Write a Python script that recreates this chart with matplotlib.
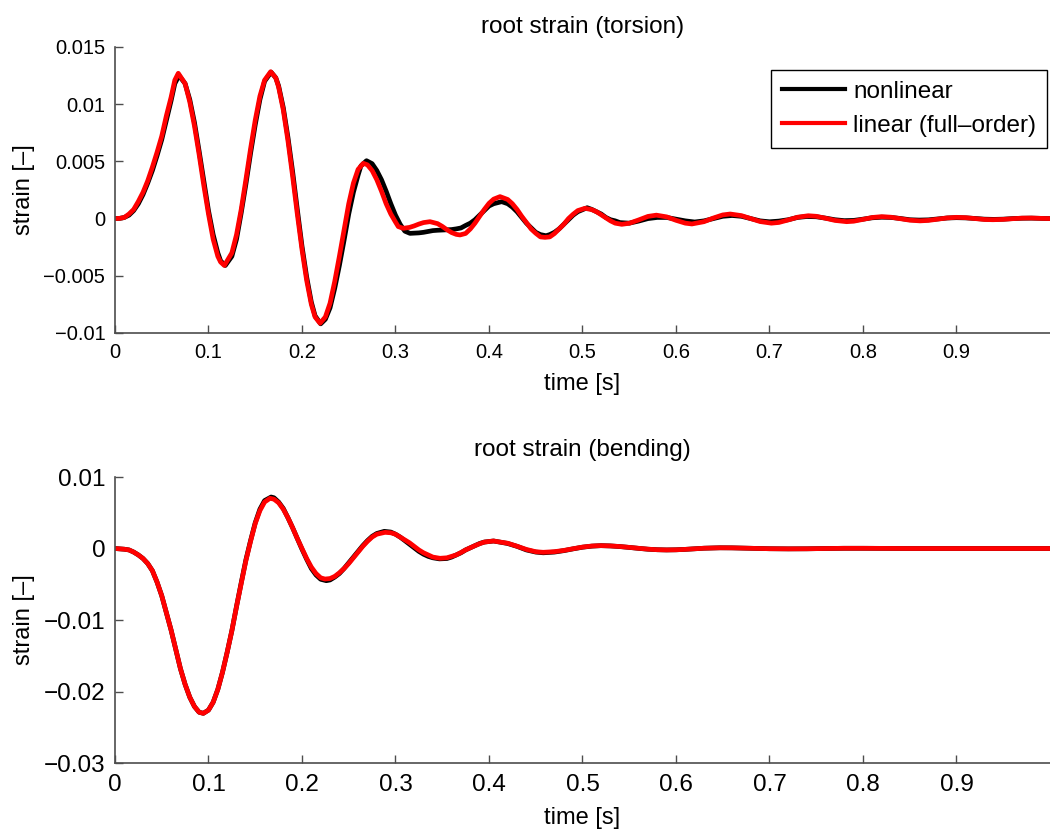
import numpy as np
import matplotlib.pyplot as plt
from matplotlib.ticker import FuncFormatter

plt.rcParams['font.family'] = ['Liberation Sans', 'DejaVu Sans']

# (time [s], strain)
# root strain (torsion), linear full-order model
tor_lin = [
    (0.0, 0.0), (0.005, 0.00002), (0.01, 0.0001), (0.015, 0.0004), (0.02, 0.0008),
    (0.025, 0.0015), (0.03, 0.0023), (0.035, 0.0033), (0.04, 0.0045), (0.045, 0.0058),
    (0.05, 0.0072), (0.055, 0.0090), (0.06, 0.0106), (0.064, 0.0121), (0.0677, 0.0127),
    (0.075, 0.0118), (0.08, 0.0102), (0.085, 0.0081), (0.09, 0.0056), (0.095, 0.0029),
    (0.10, 0.0004), (0.105, -0.0018), (0.11, -0.0033), (0.113, -0.0038), (0.117, -0.0041),
    (0.125, -0.0030), (0.13, -0.0014), (0.135, 0.0008), (0.14, 0.0034), (0.145, 0.0061),
    (0.15, 0.0086), (0.155, 0.0107), (0.16, 0.0121), (0.1665, 0.01284), (0.172, 0.0123),
    (0.175, 0.0115), (0.18, 0.0095), (0.185, 0.0068), (0.19, 0.0037), (0.195, 0.0004),
    (0.20, -0.0027), (0.205, -0.0054), (0.21, -0.0075), (0.214, -0.0086), (0.2193, -0.00915),
    (0.225, -0.0086), (0.23, -0.0074), (0.235, -0.0055), (0.24, -0.0033), (0.245, -0.0010),
    (0.25, 0.0013), (0.255, 0.0031), (0.26, 0.0043), (0.2656, 0.00483), (0.27, 0.0047),
    (0.275, 0.0042), (0.28, 0.0034), (0.285, 0.0024), (0.29, 0.0013), (0.295, 0.0004),
    (0.30, -0.0003), (0.303, -0.0007), (0.3083, -0.00085), (0.315, -0.00077), (0.32, -0.00064),
    (0.325, -0.00048), (0.33, -0.00035), (0.3369, -0.00027), (0.345, -0.00044),
    (0.35, -0.00068), (0.355, -0.00097), (0.36, -0.00122), (0.365, -0.00138), (0.369, -0.00143),
    (0.375, -0.0013), (0.38, -0.00091), (0.385, -0.0004), (0.39, 0.0002), (0.395, 0.0008),
    (0.40, 0.00133), (0.405, 0.0017), (0.4118, 0.00192), (0.42, 0.00167), (0.425, 0.0013),
    (0.43, 0.0008), (0.435, 0.0002), (0.44, -0.00034), (0.445, -0.0009), (0.45, -0.00128),
    (0.455, -0.0016), (0.4599, -0.00164), (0.465, -0.0016), (0.47, -0.00131), (0.475, -0.0009),
    (0.48, -0.0005), (0.485, 0.0), (0.49, 0.00038), (0.495, 0.0007), (0.5027, 0.0009),
    (0.51, 0.00078), (0.515, 0.0006), (0.52, 0.00033), (0.525, 0.00005), (0.53, -0.0002),
    (0.535, -0.0004), (0.542, -0.0005), (0.55, -0.00041), (0.56, -0.00012), (0.57, 0.00019),
    (0.579, 0.0003), (0.59, 0.00015), (0.60, -0.00015), (0.61, -0.0004), (0.617, -0.00047),
    (0.63, -0.00027), (0.64, 0.00005), (0.65, 0.00032), (0.658, 0.0004), (0.67, 0.00026),
    (0.68, 0.0), (0.69, -0.00026), (0.702, -0.0004), (0.71, -0.00034), (0.72, -0.00012),
    (0.73, 0.00012), (0.7415, 0.00025), (0.75, 0.0002), (0.76, 0.00003), (0.77, -0.00016),
    (0.7825, -0.00027), (0.79, -0.00023), (0.80, -0.00007), (0.81, 0.0001), (0.82, 0.00017),
    (0.83, 0.00012), (0.84, -0.00001), (0.85, -0.00014), (0.861, -0.0002), (0.87, -0.00016),
    (0.88, -0.00005), (0.89, 0.00006), (0.90, 0.00011), (0.91, 0.00008), (0.92, 0.0),
    (0.93, -0.00008), (0.939, -0.0001), (0.95, -0.00007), (0.96, -0.00001), (0.97, 0.00004),
    (0.98, 0.00005), (0.99, 0.00002), (1.0, 0.0),
]

# root strain (torsion), nonlinear model
tor_nl = [
    (0.0, 0.0), (0.005, 0.00002), (0.01, 0.0001), (0.015, 0.0003), (0.02, 0.0007),
    (0.025, 0.0013), (0.03, 0.0021), (0.035, 0.0031), (0.04, 0.0042), (0.045, 0.0055),
    (0.05, 0.0069), (0.055, 0.0086), (0.06, 0.0103), (0.064, 0.0118), (0.0685, 0.0125),
    (0.075, 0.0118), (0.08, 0.0104), (0.085, 0.0084), (0.09, 0.0059), (0.095, 0.0033),
    (0.10, 0.0007), (0.105, -0.0014), (0.11, -0.0030), (0.113, -0.0037), (0.118, -0.0041),
    (0.125, -0.0033), (0.13, -0.0018), (0.135, 0.0005), (0.14, 0.0030), (0.145, 0.0057),
    (0.15, 0.0082), (0.155, 0.0104), (0.16, 0.0120), (0.167, 0.0128), (0.172, 0.0123),
    (0.175, 0.0116), (0.18, 0.0097), (0.185, 0.0071), (0.19, 0.0041), (0.195, 0.0008),
    (0.20, -0.0024), (0.205, -0.0051), (0.21, -0.0073), (0.214, -0.0085), (0.22, -0.0092),
    (0.225, -0.0088), (0.23, -0.0078), (0.235, -0.0061), (0.24, -0.0041), (0.245, -0.0019),
    (0.25, 0.0004), (0.255, 0.0023), (0.26, 0.0038), (0.263, 0.0046), (0.269, 0.00506),
    (0.275, 0.0048), (0.28, 0.0042), (0.285, 0.0034), (0.29, 0.0024), (0.295, 0.0013),
    (0.30, 0.0003), (0.305, -0.0005), (0.31, -0.0011), (0.3155, -0.00129), (0.325, -0.00125),
    (0.33, -0.0012), (0.34, -0.00105), (0.345, -0.00102), (0.35, -0.0010), (0.355, -0.00098),
    (0.36, -0.00096), (0.365, -0.0009), (0.37, -0.00082), (0.375, -0.0006), (0.38, -0.0004),
    (0.385, -0.0001), (0.39, 0.0003), (0.395, 0.0007), (0.40, 0.0011), (0.405, 0.0013),
    (0.4136, 0.00148), (0.42, 0.0013), (0.425, 0.0010), (0.43, 0.0006), (0.435, 0.0001),
    (0.44, -0.0004), (0.445, -0.0008), (0.45, -0.0012), (0.455, -0.0014), (0.461, -0.0015),
    (0.465, -0.0014), (0.47, -0.0012), (0.475, -0.0009), (0.48, -0.0005), (0.485, -0.0001),
    (0.49, 0.0003), (0.495, 0.0006), (0.505, 0.00095), (0.51, 0.0008), (0.515, 0.0006),
    (0.52, 0.0004), (0.525, 0.0001), (0.53, -0.0001), (0.535, -0.0002), (0.54, -0.00035),
    (0.55, -0.0004), (0.56, -0.00022), (0.57, 0.0), (0.58, 0.0001), (0.59, 0.0001),
    (0.60, -0.00005), (0.61, -0.0002), (0.62, -0.0003), (0.63, -0.0002), (0.64, 0.0),
    (0.65, 0.0002), (0.66, 0.00027), (0.67, 0.0002), (0.68, 0.0), (0.69, -0.0002),
    (0.70, -0.00028), (0.71, -0.00022), (0.72, -0.0001), (0.73, 0.0001), (0.74, 0.00018),
    (0.75, 0.00016), (0.76, 0.00004), (0.77, -0.0001), (0.78, -0.00018), (0.79, -0.00016),
    (0.80, -0.00005), (0.81, 0.00007), (0.82, 0.00012), (0.83, 0.0001), (0.84, 0.00001),
    (0.85, -0.0001), (0.86, -0.00013), (0.87, -0.00011), (0.88, -0.00003), (0.89, 0.00005),
    (0.90, 0.00008), (0.91, 0.00006), (0.92, 0.00001), (0.93, -0.00005), (0.94, -0.00007),
    (0.95, -0.00005), (0.96, 0.0), (0.97, 0.00003), (0.98, 0.00004), (0.99, 0.00002), (1.0, 0.0),
]

# root strain (bending), linear full-order model
bend_lin = [
    (0.0, 0.0), (0.01, -0.0001), (0.015, -0.0002), (0.02, -0.0005), (0.025, -0.0009),
    (0.03, -0.0014), (0.035, -0.0021), (0.04, -0.0031), (0.045, -0.0047), (0.05, -0.0066),
    (0.055, -0.0090), (0.06, -0.0114), (0.065, -0.0141), (0.07, -0.0168), (0.075, -0.0190),
    (0.08, -0.0208), (0.085, -0.0221), (0.09, -0.0229), (0.0945, -0.02305), (0.10, -0.0226),
    (0.105, -0.0215), (0.11, -0.0197), (0.115, -0.0173), (0.12, -0.0145), (0.125, -0.0115),
    (0.13, -0.0081), (0.135, -0.0049), (0.14, -0.0017), (0.145, 0.0010), (0.15, 0.0035),
    (0.155, 0.0053), (0.16, 0.0065), (0.1658, 0.00702), (0.17, 0.0069), (0.175, 0.0064),
    (0.18, 0.0055), (0.185, 0.0043), (0.19, 0.0029), (0.195, 0.0014), (0.20, 0.0),
    (0.205, -0.0014), (0.21, -0.0026), (0.215, -0.0035), (0.22, -0.0041), (0.2246, -0.00427),
    (0.23, -0.0042), (0.235, -0.0039), (0.24, -0.0034), (0.245, -0.0028), (0.25, -0.0021),
    (0.255, -0.0013), (0.26, -0.0005), (0.265, 0.0003), (0.27, 0.0010), (0.275, 0.0016),
    (0.28, 0.0020), (0.2888, 0.00226), (0.295, 0.0022), (0.30, 0.0020), (0.305, 0.0016),
    (0.31, 0.0012), (0.315, 0.0008), (0.32, 0.0003), (0.325, -0.0002), (0.33, -0.0006),
    (0.335, -0.0009), (0.34, -0.0012), (0.3476, -0.00137), (0.355, -0.0013), (0.36, -0.0011),
    (0.365, -0.0009), (0.37, -0.00056), (0.375, -0.0002), (0.38, 0.0001), (0.385, 0.0004),
    (0.39, 0.00067), (0.395, 0.0009), (0.4046, 0.00105), (0.42, 0.00074), (0.43, 0.00032),
    (0.44, -0.00013), (0.45, -0.00045), (0.458, -0.00053), (0.47, -0.00044), (0.48, -0.00027),
    (0.49, -0.00003), (0.50, 0.0002), (0.51, 0.00035), (0.519, 0.0004), (0.53, 0.00036),
    (0.54, 0.00028), (0.55, 0.00016), (0.56, 0.00003), (0.57, -0.00009), (0.58, -0.00017),
    (0.59, -0.0002), (0.60, -0.00018), (0.61, -0.00012), (0.62, -0.00004), (0.63, 0.00004),
    (0.647, 0.0001), (0.66, 0.00009), (0.68, 0.00003), (0.70, -0.00003), (0.72, -0.00005),
    (0.74, -0.00004), (0.76, 0.0), (0.78, 0.00003), (0.80, 0.00003), (0.85, 0.0),
    (0.90, 0.0), (0.95, 0.0), (1.0, 0.0),
]

# root strain (bending), nonlinear model
bend_nl = [
    (0.0, 0.0), (0.01, -0.0001), (0.015, -0.0002), (0.02, -0.0005), (0.025, -0.0009),
    (0.03, -0.0014), (0.035, -0.0021), (0.04, -0.0031), (0.045, -0.0047), (0.05, -0.0066),
    (0.055, -0.0090), (0.06, -0.0114), (0.065, -0.0141), (0.07, -0.0168), (0.075, -0.0190),
    (0.08, -0.0208), (0.085, -0.0221), (0.09, -0.0229), (0.0945, -0.02305), (0.10, -0.0226),
    (0.105, -0.0215), (0.11, -0.0197), (0.115, -0.0173), (0.12, -0.0145), (0.125, -0.0115),
    (0.13, -0.0081), (0.135, -0.0048), (0.14, -0.0016), (0.145, 0.0011), (0.15, 0.0036),
    (0.155, 0.0055), (0.16, 0.0067), (0.167, 0.0072), (0.17, 0.0071), (0.175, 0.0065),
    (0.18, 0.0056), (0.185, 0.0043), (0.19, 0.0029), (0.195, 0.0014), (0.20, -0.0001),
    (0.205, -0.0015), (0.21, -0.0028), (0.215, -0.0037), (0.22, -0.0043), (0.226, -0.0045),
    (0.23, -0.0044), (0.235, -0.0040), (0.24, -0.0035), (0.245, -0.0028), (0.25, -0.0020),
    (0.255, -0.0012), (0.26, -0.0004), (0.265, 0.0004), (0.27, 0.0011), (0.275, 0.0017),
    (0.28, 0.0021), (0.288, 0.0024), (0.295, 0.0023), (0.30, 0.0020), (0.305, 0.0016),
    (0.31, 0.0011), (0.315, 0.0006), (0.32, 0.0001), (0.325, -0.0004), (0.33, -0.0008),
    (0.335, -0.0011), (0.34, -0.0013), (0.347, -0.00145), (0.355, -0.0014), (0.36, -0.0012),
    (0.365, -0.0009), (0.37, -0.0006), (0.375, -0.0002), (0.38, 0.0001), (0.385, 0.0004),
    (0.39, 0.0007), (0.395, 0.0009), (0.405, 0.00105), (0.42, 0.0007), (0.43, 0.0003),
    (0.44, -0.0002), (0.45, -0.0005), (0.458, -0.0006), (0.47, -0.0005), (0.48, -0.0003),
    (0.49, -0.00005), (0.50, 0.00018), (0.51, 0.00033), (0.52, 0.0004), (0.53, 0.00036),
    (0.54, 0.00027), (0.55, 0.00015), (0.56, 0.00002), (0.57, -0.0001), (0.58, -0.00017),
    (0.59, -0.0002), (0.60, -0.00018), (0.61, -0.00012), (0.62, -0.00004), (0.63, 0.00004),
    (0.647, 0.0001), (0.66, 0.00009), (0.68, 0.00003), (0.70, -0.00003), (0.72, -0.00005),
    (0.74, -0.00004), (0.76, 0.0), (0.78, 0.00003), (0.80, 0.00003), (0.85, 0.0),
    (0.90, 0.0), (0.95, 0.0), (1.0, 0.0),
]

xticks = [0, 0.1, 0.2, 0.3, 0.4, 0.5, 0.6, 0.7, 0.8, 0.9]
yticks_tor = [-0.01, -0.005, 0, 0.005, 0.01, 0.015]
yticks_bend = [-0.03, -0.02, -0.01, 0, 0.01]


def fmt(v, pos):
    return ('%g' % v).replace('-', '\u2212')


def style(ax, tick_size):
    for s in ['top', 'right']:
        ax.spines[s].set_visible(False)
    for s in ['left', 'bottom']:
        ax.spines[s].set_color('0.3')
        ax.spines[s].set_linewidth(1.2)
    ax.tick_params(direction='in', length=6, width=1.0, color='0.3',
                   labelsize=tick_size, pad=7)
    ax.xaxis.set_major_formatter(FuncFormatter(fmt))
    ax.yaxis.set_major_formatter(FuncFormatter(fmt))
    ax.set_xlim(0, 1)
    ax.set_xticks(xticks)
    ax.set_xlabel('time [s]', fontsize=17, labelpad=8)
    ax.set_ylabel('strain [\u2013]', fontsize=17, labelpad=6)


fig = plt.figure(figsize=(10.5, 8.3), dpi=100)

ax1 = fig.add_axes([0.1095, 0.5988, 0.8905, 0.3446])
t, v = np.array(tor_nl).T
ax1.plot(t, v, color='black', lw=3.4, label='nonlinear')
t, v = np.array(tor_lin).T
ax1.plot(t, v, color='red', lw=3.4, label='linear (full\u2013order)')
ax1.set_ylim(-0.01, 0.015)
ax1.set_yticks(yticks_tor)
style(ax1, 14.5)
ax1.set_title('root strain (torsion)', fontsize=17.5, pad=10)
leg = ax1.legend(loc='upper right', bbox_to_anchor=(0.997, 0.92), borderaxespad=0,
                 fontsize=17.5, fancybox=False, edgecolor='black', framealpha=1,
                 handlelength=2.6, handletextpad=0.35, borderpad=0.45, labelspacing=0.5)
leg.get_frame().set_linewidth(1.0)
for line in leg.get_lines():
    line.set_linewidth(3)

ax2 = fig.add_axes([0.1095, 0.0807, 0.8905, 0.3446])
t, v = np.array(bend_nl).T
ax2.plot(t, v, color='black', lw=3.4)
t, v = np.array(bend_lin).T
ax2.plot(t, v, color='red', lw=3.4)
ax2.set_ylim(-0.03, 0.01)
ax2.set_yticks(yticks_bend)
style(ax2, 17.5)
ax2.tick_params(axis='x', pad=8)
ax2.set_title('root strain (bending)', fontsize=17.5, pad=15)

fig.savefig('out.png', dpi=100)
